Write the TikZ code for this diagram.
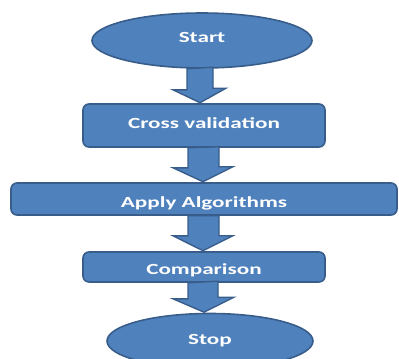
\documentclass[tikz,border=0pt]{standalone}
\usepackage{fontspec}
\setmainfont{Carlito}
\newfontfamily\diagfont{Carlito}[FakeStretch=1.5]
\usetikzlibrary{shapes.geometric,calc}
\definecolor{boxfill}{HTML}{4F81BD}
\definecolor{boxline}{HTML}{385D8A}
\tikzset{
  shapebase/.style={fill=boxfill,draw=boxline,line width=1.6bp,text=white,font=\diagfont\bfseries\fontsize{15.5}{19}\selectfont,inner sep=0pt,text depth=0pt},
  term/.style={shapebase,ellipse},
  procbox/.style={shapebase,rectangle,rounded corners=6bp},
  blockarrow/.style={fill=boxfill,draw=boxline,line width=1.4bp,line join=miter}
}
\begin{document}
\begin{tikzpicture}[x=1bp,y=-1bp]
\useasboundingbox (0,0) rectangle (399,359);
\node[term,minimum width=220bp,minimum height=55bp,text height=3bp] (start) at (202,40.5) {Start};
\node[procbox,minimum width=242bp,minimum height=43bp,text height=5bp] (cv) at (204,125.5) {Cross validation};
\node[procbox,minimum width=386bp,minimum height=32bp,text height=16bp] (apply) at (204,199) {Apply Algorithms};
\node[procbox,minimum width=242bp,minimum height=30bp,text height=14bp] (comp) at (204,267) {Comparison};
\node[term,minimum width=206bp,minimum height=55bp,text height=6bp] (stop) at (210,341) {Stop};
% block arrows
\draw[blockarrow] ($(start.south)+(-15,0)$) -- ++(0,21) -- ++(-14,0) -- ($(cv.north)+(-4,-0.5)$) -- ++(26,-14.5) -- ++(-13,0) -- ++(0,-21) -- cycle;
\draw[blockarrow] ($(cv.south)+(-16,0)$) -- ++(0,20) -- ++(-15,0) -- ($(apply.north)+(-1,-0.5)$) -- ++(30,-15) -- ++(-14,0) -- ++(0,-20) -- cycle;
\draw[blockarrow] ($(apply.south)+(-16,0)$) -- ++(0,20) -- ++(-15,0) -- ($(comp.north)+(-1,-0.5)$) -- ++(30,-15) -- ++(-14,0) -- ++(0,-20) -- cycle;
\draw[blockarrow] ($(comp.south)+(-16,0)$) -- ++(0,16) -- ++(-15,0) -- ($(stop.north)+(-6,-0.5)$) -- ++(30,-15) -- ++(-16,0) -- ++(0,-16) -- cycle;
\end{tikzpicture}
\end{document}
